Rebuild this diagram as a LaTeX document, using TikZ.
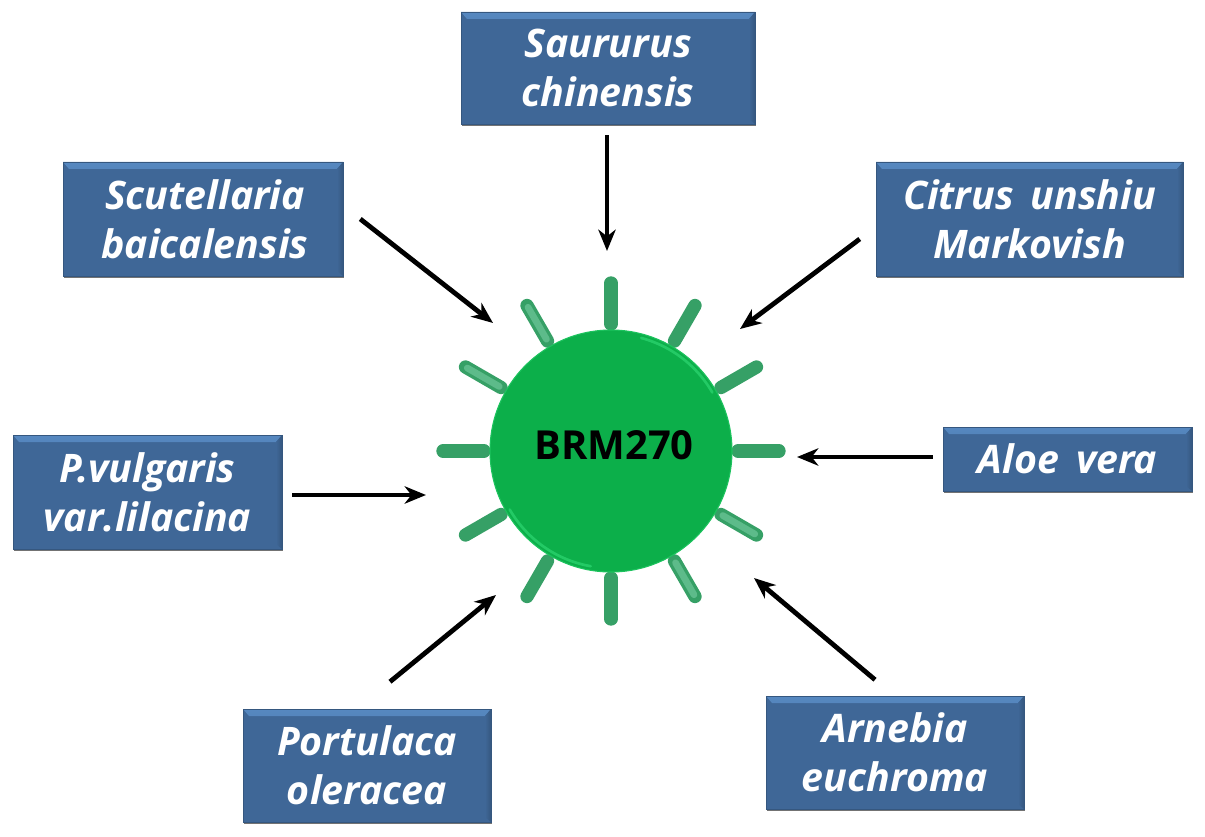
\documentclass[tikz,border=0pt]{standalone}
\usepackage{fontspec}
\setmainfont{Open Sans}
\usetikzlibrary{shadows,arrows.meta}
\definecolor{boxblue}{HTML}{3F6797}
\definecolor{boxtop}{HTML}{5688C0}
\definecolor{boxedge}{HTML}{35577F}
\definecolor{coregreen}{HTML}{0CAF4A}
\definecolor{corerim}{HTML}{2FD873}
\definecolor{spike}{HTML}{36A066}
\definecolor{spikelight}{HTML}{5DBB8A}
\tikzset{
  x=0.75pt,y=-0.75pt,
  plantbox/.style={rectangle,draw=boxedge,line width=0.4pt,fill=boxblue,inner sep=0pt,
    text=white,font=\fontsize{29.5}{37}\selectfont\bfseries\itshape,align=center,
    drop shadow={shadow xshift=1pt,shadow yshift=-1.8pt,opacity=.55,fill=black},
    path picture={
      \shade[top color=boxtop,bottom color=boxblue,middle color=boxtop!45!boxblue]
        (path picture bounding box.north west) -- (path picture bounding box.north east)
        -- ([shift={(-6,7)}]path picture bounding box.north east)
        -- ([shift={(6,7)}]path picture bounding box.north west) -- cycle;
      \shade[left color=boxblue,right color=boxedge]
        ([shift={(-6,7)}]path picture bounding box.north east) -- (path picture bounding box.north east)
        -- (path picture bounding box.south east) -- ([shift={(-6,-5)}]path picture bounding box.south east) -- cycle;
    }},
  arr/.style={line width=3.6pt,draw=black,-{Stealth[length=16pt,width=13pt,inset=5pt]}},
  spk/.style={line width=10pt,line cap=round,draw=spike},
  spkin/.style={line width=5pt,line cap=round,draw=spikelight},
}
\begin{document}
\begin{tikzpicture}
\useasboundingbox (0,0) rectangle (1205,837);
% spikes
\foreach \a in {0,30,...,330}{
  \draw[spk] ({611+cos(\a)*127},{451-sin(\a)*127}) -- ({611+cos(\a)*168},{451-sin(\a)*168});
}
\foreach \a in {120,150,330,300}{
  \draw[spkin] ({611+cos(\a)*129},{451-sin(\a)*129}) -- ({611+cos(\a)*166},{451-sin(\a)*166});
}
% core
\node[circle,minimum size=181.5pt,inner sep=0pt,fill=coregreen,draw=corerim!50!coregreen,line width=0.8pt] (core) at (611,451) {};
\draw[corerim!65!coregreen,line width=2pt,line cap=round] plot[domain=30:75,samples=40] ({611+cos(\x)*117},{451-sin(\x)*117});
\draw[corerim!65!coregreen,line width=2pt,line cap=round] plot[domain=210:260,samples=40] ({611+cos(\x)*117},{451-sin(\x)*117});
\node[font=\fontsize{30}{36}\selectfont\bfseries,text=black] (label) at (614,445) {BRM270};
% boxes
\node[plantbox,minimum width=220.5pt,minimum height=84pt] (sa) at (608,68) {Saururus\\chinensis};
\node[plantbox,minimum width=210pt,minimum height=85.5pt] (sc) at (203,219) {\hspace{3pt}Scutellaria\\\hspace{3pt}baicalensis};
\node[plantbox,minimum width=230.25pt,minimum height=85.5pt] (ci) at (1029.5,219) {Citrus\hspace{5pt} unshiu\\Markovish};
\node[plantbox,minimum width=186.75pt,minimum height=48pt] (al) at (1067.5,459) {Aloe\hspace{5pt} vera};
\node[plantbox,minimum width=201.75pt,minimum height=85.5pt] (pv) at (147.5,492) {P.vulgaris\\var.lilacina};
\node[plantbox,minimum width=186pt,minimum height=84.75pt] (po) at (367,765.5) {Portulaca\\oleracea};
\node[plantbox,minimum width=193.5pt,minimum height=84.75pt] (ar) at (895,752.5) {Arnebia\\euchroma};
% arrows
\coordinate (e1) at (607,251);
\coordinate (e2) at (493,323);
\coordinate (e3) at (740,329);
\coordinate (e4) at (797,457);
\coordinate (e5) at (754,578);
\coordinate (e6) at (496,595);
\coordinate (e7) at (426,495);
\draw[arr] ([shift={(-1,11)}]sa.south) -- (e1);
\draw[arr] ([shift={(17,0)}]sc.east) -- (e2);
\draw[arr] ([shift={(-16,20)}]ci.west) -- (e3);
\draw[arr] ([shift={(-10,-2)}]al.west) -- (e4);
\draw[arr] ([shift={(-20,-16)}]ar.north) -- (e5);
\draw[arr] ([shift={(23,-27)}]po.north) -- (e6);
\draw[arr] ([shift={(10,3)}]pv.east) -- (e7);
\end{tikzpicture}
\end{document}
